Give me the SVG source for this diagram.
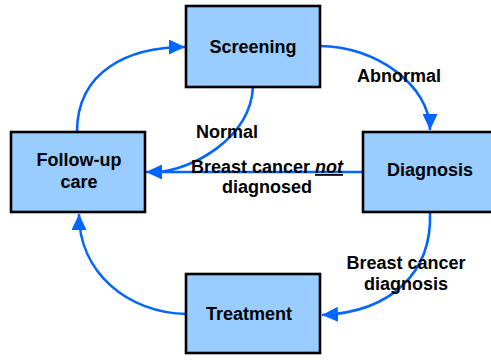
<svg xmlns="http://www.w3.org/2000/svg" width="491" height="360" viewBox="0 0 491 360">
<style>
.box{fill:#99ccff;stroke:#000;stroke-width:2.6}
.lbl{font-family:"Liberation Sans",Arial,sans-serif;font-weight:bold;font-size:18px;fill:#000;text-anchor:middle}
.con{fill:none;stroke:#0066ff;stroke-width:2.6}
</style>
<defs>
<marker id="ah" markerUnits="userSpaceOnUse" markerWidth="16" markerHeight="15" viewBox="0 0 16 15" refX="16" refY="7.5" orient="auto">
<path d="M0,0 L16,7.5 L0,15 z" fill="#0066ff"/>
</marker>
</defs>
<rect width="491" height="360" fill="#fff"/>
<g id="connectors">
<path class="con" d="M77,132 C77,70 130,47 185,47" marker-end="url(#ah)"/>
<path class="con" d="M320,46 C375,46 430,85 430,130" marker-end="url(#ah)"/>
<path class="con" d="M430,213 C432,272 392,312 322,315" marker-end="url(#ah)"/>
<path class="con" d="M187,314 C127,313 79,272 79,214" marker-end="url(#ah)"/>
<path class="con" d="M253,87 C250,140 190,170 158,172"/>
<path class="con" d="M363,172 L146,172" marker-end="url(#ah)"/>
<text class="lbl" x="399" y="82">Abnormal</text>
<text class="lbl" x="227" y="138">Normal</text>
<text class="lbl" x="267" y="173">Breast cancer <tspan font-style="italic" text-decoration="underline">not</tspan></text>
<text class="lbl" x="267" y="193">diagnosed</text>
<text class="lbl" x="406" y="269">Breast cancer</text>
<text class="lbl" x="406" y="290">diagnosis</text>
</g>
<g id="screening">
<rect class="box" x="186" y="6" width="134" height="81"/>
<text class="lbl" x="253" y="53">Screening</text>
</g>
<g id="followup">
<rect class="box" x="11" y="132" width="134" height="80"/>
<text class="lbl" x="79" y="166">Follow-up</text>
<text class="lbl" x="79" y="188">care</text>
</g>
<g id="diagnosis">
<rect class="box" x="363" y="132" width="134" height="80"/>
<text class="lbl" x="430" y="176">Diagnosis</text>
</g>
<g id="treatment">
<rect class="box" x="186" y="274" width="134" height="79"/>
<text class="lbl" x="249" y="320">Treatment</text>
</g>
</svg>
